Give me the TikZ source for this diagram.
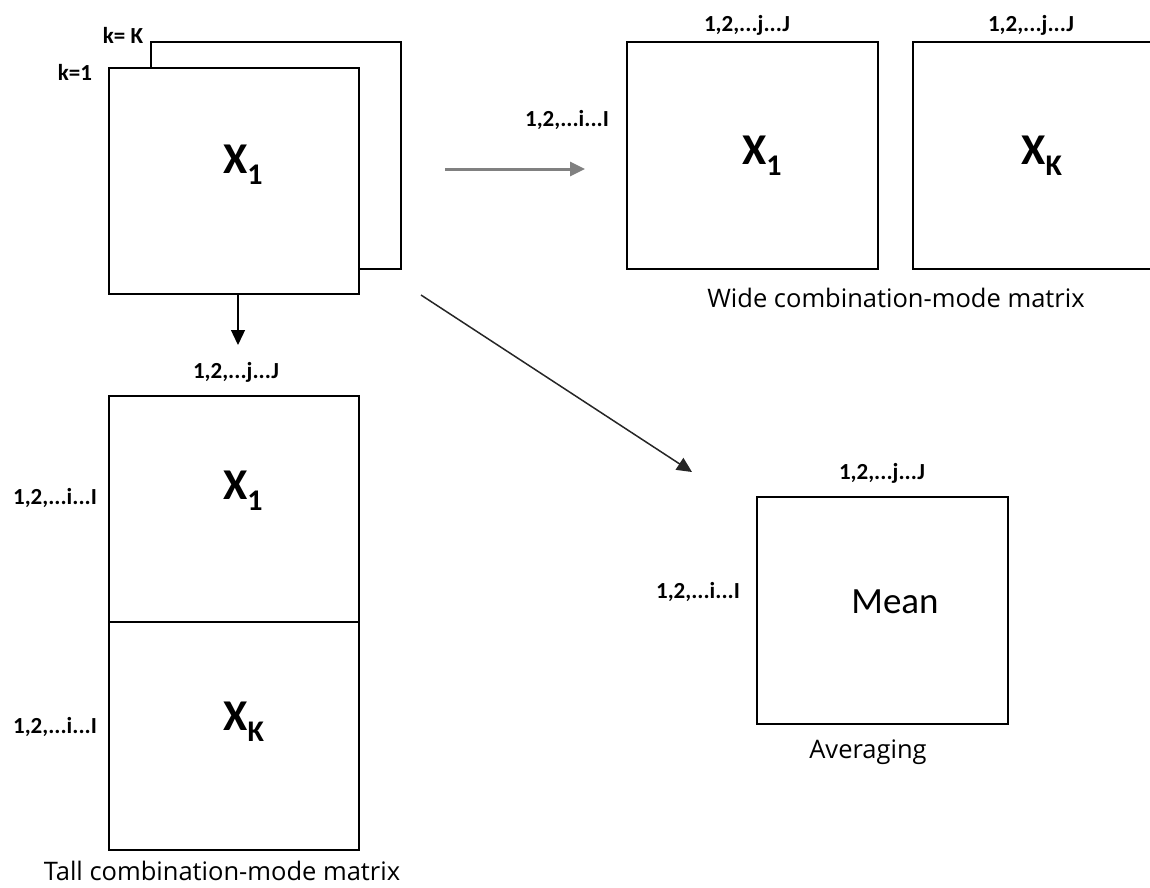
\documentclass[tikz,border=0pt]{standalone}
\usepackage{fontspec}
\setmainfont{Carlito}
\newfontfamily\capfont{Open Sans}
\usetikzlibrary{arrows.meta}
\tikzset{
  mat/.style={draw=black, line width=1.3pt, fill=white, minimum width=#1, inner sep=0pt, outer sep=0pt},
  idx/.style={font=\fontsize{23}{25}\selectfont\bfseries, inner sep=0pt},
  bigx/.style={font=\fontsize{44}{48}\selectfont\bfseries, inner sep=0pt},
  captext/.style={font=\capfont\fontsize{25.5}{28}\selectfont, inner sep=0pt},
  arrowtip/.style={-{Triangle[length=15pt,width=14pt]}},
}
\begin{document}
\begin{tikzpicture}[x=1pt,y=-1pt]
\useasboundingbox (0,0) rectangle (1150,887);
\clip (0,0) rectangle (1150,887);
% stacked slices
\node[mat=250pt, minimum height=227pt] (back) at (276,155.5) {};
\node[mat=250pt, minimum height=226pt] (front) at (234,181) {};
\node[bigx] (fx) at (243,165) {X\textsubscript{\fontsize{30}{30}\selectfont 1}};
\node[idx] (k1) at (75,72) {k=1};
\node[idx] (kK) at (123,35) {k= K};
% wide
\node[mat=251pt, minimum height=227pt] (w1) at (752.5,155.5) {};
\node[mat=251pt, minimum height=227pt] (wK) at (1038.5,155.5) {};
\node[bigx] (w1x) at (762,156) {X\textsubscript{\fontsize{30}{30}\selectfont 1}};
\node[bigx] (wKx) at (1042,156) {X\textsubscript{\fontsize{30}{30}\selectfont K}};
\node[idx] (w1j) at (747,25) {1,2,...j...J};
\node[idx] (wKj) at (1031,25) {1,2,...j...J};
\node[idx] (wi) at (567,120) {1,2,...i...I};
\node[captext] (wcap) at (896,298) {Wide combination-mode matrix};
% tall
\node[mat=250pt, minimum height=226pt] (t1) at (234,509) {};
\node[mat=250pt, minimum height=228pt] (tK) at (234,736) {};
\node[bigx] (t1x) at (243,491) {X\textsubscript{\fontsize{30}{30}\selectfont 1}};
\node[bigx] (tKx) at (244,722) {X\textsubscript{\fontsize{30}{30}\selectfont K}};
\node[idx] (tj) at (236,372) {1,2,...j...J};
\node[idx] (ti1) at (55,498) {1,2,...i...I};
\node[idx] (tiK) at (55,727) {1,2,...i...I};
\node[captext] (tcap) at (222,871) {Tall combination-mode matrix};
% mean
\node[mat=251pt, minimum height=227pt] (mean) at (882.5,610.5) {};
\node[font=\fontsize{37}{40}\selectfont, inner sep=0pt] (meant) at (895,602) {Mean};
\node[idx] (mj) at (882,473) {1,2,...j...J};
\node[idx] (mi) at (698,592) {1,2,...i...I};
\node[captext] (mcap) at (868,752) {Averaging};
% arrows
\coordinate (hs) at (445,169);
\coordinate (he) at (585,169);
\coordinate (ds) at (238,294);
\coordinate (de) at (238,345);
\coordinate (gs) at (421,295);
\coordinate (ge) at (692,472);
\draw[arrowtip, draw=black!50, line width=3pt] (hs) -- (he);
\draw[arrowtip, line width=1.3pt] (ds) -- (de);
\draw[arrowtip, line width=1.5pt, draw=black!85] (gs) -- (ge);
\end{tikzpicture}
\end{document}
